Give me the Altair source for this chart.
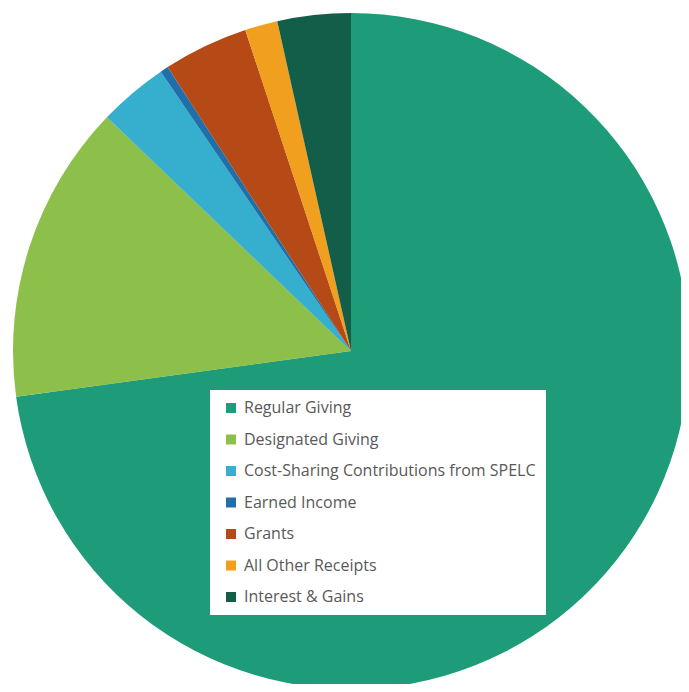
import altair as alt
import pandas as pd
import math

categories = [
    "Regular Giving",
    "Designated Giving",
    "Cost-Sharing Contributions from SPELC",
    "Earned Income",
    "Grants",
    "All Other Receipts",
    "Interest & Gains",
]
shares = [72.8, 14.3, 3.33, 0.39, 4.06, 1.56, 3.5]
colors = ["#1E9B78", "#8CC04A", "#36AFCF", "#1F6FAB", "#B54A17", "#F0A01E", "#125E48"]

df = pd.DataFrame({"category": categories, "share": shares, "idx": list(range(len(categories)))})

CX, CY, R = 343, 343, 338

shadow_df = pd.DataFrame({"v": [1]})
shadow = alt.Chart(shadow_df).mark_circle(color="#000000", opacity=0.05).encode(
    x=alt.value(CX), y=alt.value(CY), size=alt.value(math.pi * (R + 5) ** 2)
)
shadow2 = alt.Chart(shadow_df).mark_circle(color="#000000", opacity=0.06).encode(
    x=alt.value(CX), y=alt.value(CY), size=alt.value(math.pi * (R + 2) ** 2)
)

pie = alt.Chart(df).mark_arc(outerRadius=R).encode(
    theta=alt.Theta("share:Q", stack=True),
    order=alt.Order("idx:Q", sort="ascending"),
    x=alt.value(CX),
    y=alt.value(CY),
    color=alt.Color(
        "category:N",
        scale=alt.Scale(domain=categories, range=colors),
        sort=categories,
        legend=alt.Legend(
            title=None,
            orient="none",
            legendX=202,
            legendY=382,
            fillColor="white",
            padding=10,
            symbolOffset=3,
            symbolType="square",
            symbolSize=100,
            symbolStrokeWidth=0,
            labelFont="Open Sans",
            labelFontSize=16,
            labelColor="#595959",
            labelLimit=400,
            labelOffset=5,
            rowPadding=15.5,
        ),
    ),
)

chart = (
    alt.layer(shadow, shadow2, pie)
    .properties(width=673, height=676, padding=0, autosize=alt.AutoSizeParams(type="none"))
    .configure_view(stroke=None)
)

chart.save("out.html", embed_options={"renderer": "svg", "actions": False})
